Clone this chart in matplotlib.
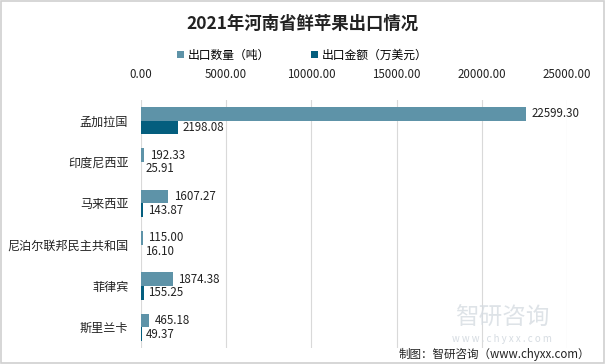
import numpy as np
import matplotlib
matplotlib.use('Agg')
import matplotlib.pyplot as plt
from matplotlib.patches import Rectangle

plt.rcParams['font.family'] = ['Noto Sans CJK SC', 'DejaVu Sans']

# data
countries = ['孟加拉国', '印度尼西亚', '马来西亚', '尼泊尔联邦民主共和国', '菲律宾', '斯里兰卡']
qty = [22599.30, 192.33, 1607.27, 115.00, 1874.38, 465.18]
amount = [2198.08, 25.91, 143.87, 16.10, 155.25, 49.37]
xticks = [0, 5000, 10000, 15000, 20000, 25000]

c_qty = '#5E93A8'
c_amt = '#045E7E'

fig = plt.figure(figsize=(6.05, 3.64), dpi=100)
ax = fig.add_axes([0.233, 0.044, 0.704, 0.681])

y = np.arange(len(countries))
h = 0.33
ax.barh(y - h / 2, qty, height=h, color=c_qty, label='出口数量（吨）', zorder=3)
ax.barh(y + h / 2, amount, height=h, color=c_amt, label='出口金额（万美元）', zorder=3)

for i in range(len(countries)):
    ax.annotate(f'{qty[i]:.2f}', (qty[i], y[i] - h / 2), xytext=(4, 0), textcoords='offset points',
                va='center', ha='left', fontsize=8.3, color='#222222')
    ax.annotate(f'{amount[i]:.2f}', (amount[i], y[i] + h / 2), xytext=(3, 0), textcoords='offset points',
                va='center', ha='left', fontsize=8.3, color='#222222')

ax.set_xlim(0, 25000)
ax.set_ylim(len(countries) - 0.5, -0.5)
ax.set_xticks(xticks)
ax.set_xticklabels([f'{v:.2f}' for v in xticks])
ax.xaxis.tick_top()
ax.tick_params(axis='x', length=0, pad=14, labelsize=8.3, labelcolor='#222222')
ax.set_yticks(y)
ax.set_yticklabels(countries)
ax.tick_params(axis='y', length=0, pad=9, labelsize=8.7, labelcolor='#222222')
ax.grid(axis='x', color='#d9d9d9', linewidth=0.8, zorder=0)
for s in ax.spines.values():
    s.set_visible(False)

fig.text(0.5, 0.935, '2021年河南省鲜苹果出口情况', ha='center', va='center',
         fontsize=12.5, fontweight='bold', color='#222222')
fig.legend(loc='center', bbox_to_anchor=(0.5, 0.848), ncol=2, frameon=False,
           fontsize=8.5, handlelength=0.6, handleheight=0.6, columnspacing=3.5, handletextpad=0.3)

# watermark
fig.text(0.83, 0.125, '智研咨询', ha='center', va='center', fontsize=17, color='#d6dce2', alpha=0.8)
fig.text(0.83, 0.07, 'w w w . c h y x x . c o m', ha='center', va='center', fontsize=7, color='#d6dce2')
fig.text(0.975, 0.027, '制图：智研咨询（www.chyxx.com）', ha='right', va='center', fontsize=8.3, color='#222222')

fig.patches.append(Rectangle((0.001, 0.002), 0.997, 0.996, transform=fig.transFigure,
                             fill=False, edgecolor='#d0d0d0', linewidth=1.2))

fig.savefig('out.png', dpi=100)
